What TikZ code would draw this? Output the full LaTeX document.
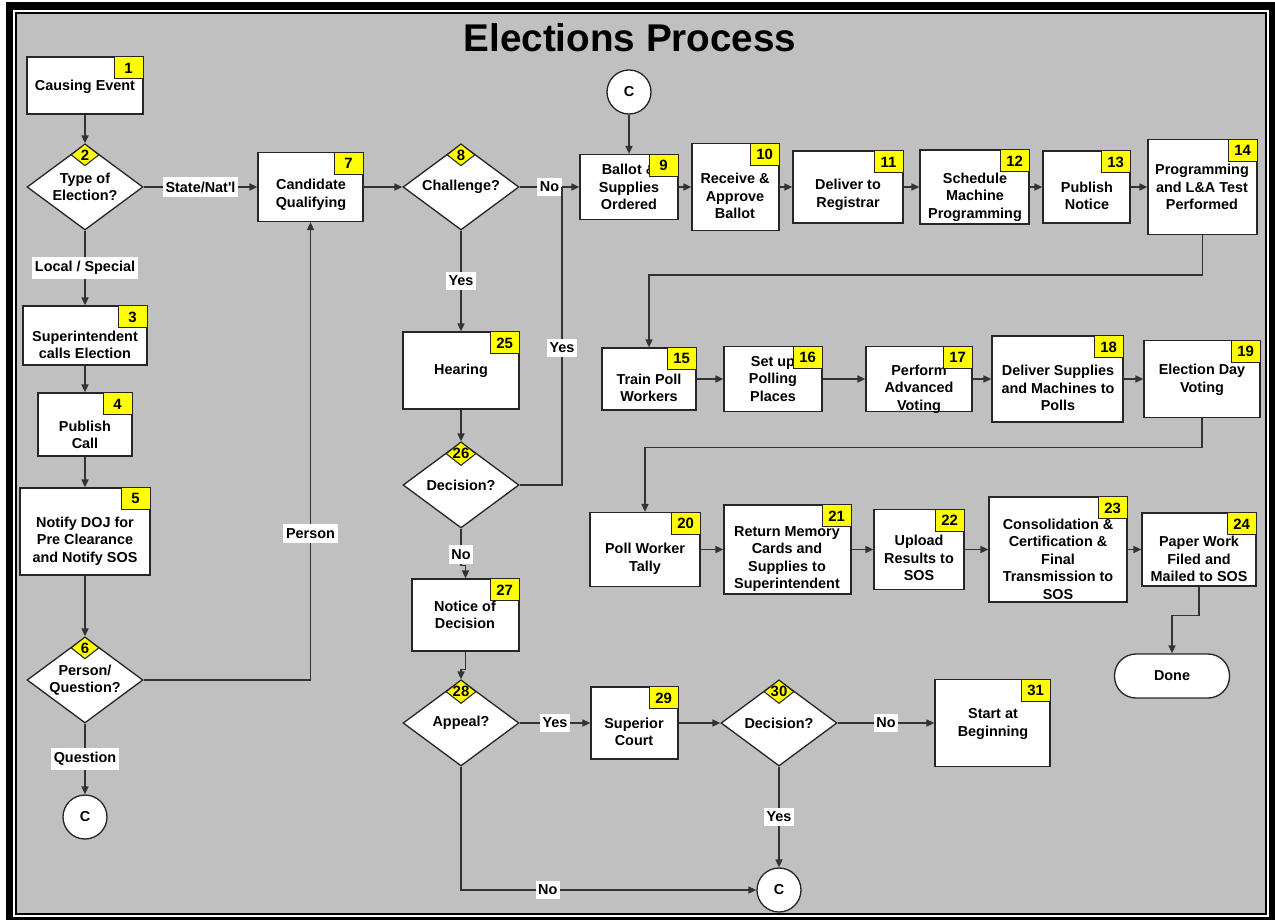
\documentclass[tikz,border=0pt]{standalone}
\usepackage{fontspec}
\setmainfont{Liberation Sans}
\usepackage{tikz}
\usetikzlibrary{shapes.geometric, arrows.meta, positioning, calc}

\definecolor{panel}{RGB}{192,192,192}
\definecolor{tag}{RGB}{255,255,0}

\begin{document}
\begin{tikzpicture}[x=0.02cm, y=-0.02cm,
    font=\fontsize{8.2}{10}\selectfont\bfseries,
    box/.style={draw=black!85, line width=0.75pt, fill=white, inner sep=0pt},
    txt/.style={align=center, inner sep=0pt},
    tagbox/.style={draw=black!85, line width=0.6pt, fill=tag, minimum width=0.58cm, minimum height=0.44cm, inner sep=0pt, anchor=north east, font=\fontsize{8.5}{9}\selectfont\bfseries},
    tagdia/.style={draw=black!85, line width=0.6pt, fill=tag, shape=diamond, aspect=1.27, minimum width=0.56cm, minimum height=0.44cm, inner sep=0pt, anchor=north, font=\fontsize{8.5}{9}\selectfont\bfseries},
    decision/.style={draw=black!85, line width=0.75pt, fill=white, shape=diamond, aspect=1.35, minimum width=2.32cm, minimum height=1.72cm, inner sep=0pt, align=center},
    conn/.style={draw=black!85, line width=0.75pt, fill=white, circle, minimum size=0.88cm, inner sep=0pt},
    lbl/.style={fill=white, inner xsep=1.5pt, inner ysep=2.5pt},
    line/.style={draw=black!80, line width=0.75pt},
    arr/.style={line, -{Triangle[length=4.5pt, width=4pt]}}]

    % frame and background
    \useasboundingbox (0,0) rectangle (1275,920);
    \fill[white] (0,0) rectangle (1275,920);
    \fill[black] (6,2) rectangle (1275,920);
    \fill[white] (12.7,10) rectangle (1269,917);
    \fill[black] (14.7,12) rectangle (1267,915);
    \fill[panel] (16.7,14) rectangle (1265,913);

    \node[font=\fontsize{22}{26}\selectfont\bfseries] (title) at (630,38) {Elections Process};

    % left column
    \node[box, minimum width=2.32cm, minimum height=1.14cm] (n1) at (85,85.5) {};
    \node[txt] (t1) at (85,87) {Causing Event};
    \node[tagbox] (k1) at (n1.north east) {1};

    \node[decision] (d2) at (85,187) {Type of\\Election?};
    \node[tagdia] (k2) at (d2.north) {2};

    \node[box, minimum width=2.48cm, minimum height=1.18cm] (n3) at (85,335.5) {};
    \node[txt] (t3) at (85,345) {Superintendent\\calls Election};
    \node[tagbox] (k3) at (n3.north east) {3};

    \node[box, minimum width=1.88cm, minimum height=1.26cm] (n4) at (85,424.5) {};
    \node[txt] (t4) at (85,435) {Publish\\Call};
    \node[tagbox] (k4) at (n4.north east) {4};

    \node[box, minimum width=2.6cm, minimum height=1.74cm] (n5) at (85,531.5) {};
    \node[txt] (t5) at (85,541) {Notify DOJ for\\Pre Clearance\\and Notify SOS};
    \node[tagbox] (k5) at (n5.north east) {5};

    \node[decision] (d6) at (85,680) {Person/\\Question?};
    \node[tagdia] (k6) at (d6.north) {6};

    \node[conn] (c1) at (85,817) {C};

    % top row
    \node[box, minimum width=2.1cm, minimum height=1.38cm] (n7) at (310.5,187) {};
    \node[txt] (t7) at (311,195) {Candidate\\Qualifying};
    \node[tagbox] (k7) at (n7.north east) {7};

    \node[decision] (d8) at (461,187) {Challenge?};
    \node[tagdia] (k8) at (d8.north) {8};

    \node[conn] (c2) at (629,92) {C};

    \node[box, minimum width=1.96cm, minimum height=1.3cm] (n9) at (629,187) {};
    \node[txt] (t9) at (629,187) {Ballot \&\\Supplies\\Ordered};
    \node[tagbox] (k9) at (n9.north east) {9};

    \node[box, minimum width=1.74cm, minimum height=1.74cm] (n10) at (735.5,187) {};
    \node[txt] (t10) at (735,196) {Receive \&\\Approve\\Ballot};
    \node[tagbox] (k10) at (n10.north east) {10};

    \node[box, minimum width=2.2cm, minimum height=1.44cm] (n11) at (848,187) {};
    \node[txt] (t11) at (848,195) {Deliver to\\Registrar};
    \node[tagbox] (k11) at (n11.north east) {11};

    \node[box, minimum width=2.18cm, minimum height=1.48cm] (n12) at (974.5,187) {};
    \node[txt] (t12) at (975,197) {Schedule\\Machine\\Programming};
    \node[tagbox] (k12) at (n12.north east) {12};

    \node[box, minimum width=1.74cm, minimum height=1.44cm] (n13) at (1086.5,187) {};
    \node[txt] (t13) at (1087,196) {Publish\\Notice};
    \node[tagbox] (k13) at (n13.north east) {13};

    \node[box, minimum width=2.18cm, minimum height=1.9cm] (n14) at (1202.5,187) {};
    \node[txt] (t14) at (1202,187) {Programming\\and L\&A Test\\Performed};
    \node[tagbox] (k14) at (n14.north east) {14};

    % second row
    \node[box, minimum width=1.88cm, minimum height=1.24cm] (n15) at (649,379) {};
    \node[txt] (t15) at (649,388) {Train Poll\\Workers};
    \node[tagbox] (k15) at (n15.north east) {15};

    \node[box, minimum width=1.96cm, minimum height=1.3cm] (n16) at (773,379) {};
    \node[txt] (t16) at (773,379) {Set up\\Polling\\Places};
    \node[tagbox] (k16) at (n16.north east) {16};

    \node[box, minimum width=2.12cm, minimum height=1.3cm] (n17) at (919,379) {};
    \node[txt] (t17) at (919,389) {Perform\\Advanced\\Voting};
    \node[tagbox] (k17) at (n17.north east) {17};

    \node[box, minimum width=2.62cm, minimum height=1.72cm] (n18) at (1057.5,379) {};
    \node[txt] (t18) at (1058,388) {Deliver Supplies\\and Machines to\\Polls};
    \node[tagbox] (k18) at (n18.north east) {18};

    \node[box, minimum width=2.32cm, minimum height=1.54cm] (n19) at (1202,379) {};
    \node[txt] (t19) at (1202,380) {Election Day\\Voting};
    \node[tagbox] (k19) at (n19.north east) {19};

    % third row
    \node[box, minimum width=2.2cm, minimum height=1.48cm] (n20) at (645,549.5) {};
    \node[txt] (t20) at (645,559) {Poll Worker\\Tally};
    \node[tagbox] (k20) at (n20.north east) {20};

    \node[box, minimum width=2.54cm, minimum height=1.78cm] (n21) at (787.5,549.5) {};
    \node[txt] (t21) at (787,559) {Return Memory\\Cards and\\Supplies to\\Superintendent};
    \node[tagbox] (k21) at (n21.north east) {21};

    \node[box, minimum width=1.8cm, minimum height=1.6cm] (n22) at (919,549.5) {};
    \node[txt] (t22) at (919,558) {Upload\\Results to\\SOS};
    \node[tagbox] (k22) at (n22.north east) {22};

    \node[box, minimum width=2.76cm, minimum height=2.1cm] (n23) at (1058,549.5) {};
    \node[txt] (t23) at (1058,559) {Consolidation \&\\Certification \&\\Final\\Transmission to\\SOS};
    \node[tagbox] (k23) at (n23.north east) {23};

    \node[box, minimum width=2.28cm, minimum height=1.46cm] (n24) at (1199,549.5) {};
    \node[txt] (t24) at (1199,559) {Paper Work\\Filed and\\Mailed to SOS};
    \node[tagbox] (k24) at (n24.north east) {24};

    \node[box, rounded corners=0.43cm, minimum width=2.3cm, minimum height=0.88cm] (done) at (1172,676) {Done};

    % challenge branch
    \node[box, minimum width=2.32cm, minimum height=1.54cm] (n25) at (461,370.5) {};
    \node[txt] (t25) at (461,371) {Hearing};
    \node[tagbox] (k25) at (n25.north east) {25};

    \node[decision] (d26) at (461,485) {Decision?};
    \node[tagdia] (k26) at (d26.north) {26};

    \node[box, minimum width=2.14cm, minimum height=1.44cm] (n27) at (465.5,615) {};
    \node[txt] (t27) at (465,615) {Notice of\\Decision};
    \node[tagbox] (k27) at (n27.north east) {27};

    \node[decision] (d28) at (461,723) {Appeal?};
    \node[tagdia] (k28) at (d28.north) {28};

    \node[box, minimum width=1.74cm, minimum height=1.44cm] (n29) at (634.5,723) {};
    \node[txt] (t29) at (634,732) {Superior\\Court};
    \node[tagbox] (k29) at (n29.north east) {29};

    \node[decision] (d30) at (779,723) {Decision?};
    \node[tagdia] (k30) at (d30.north) {30};

    \node[box, minimum width=2.3cm, minimum height=1.74cm] (n31) at (992.5,723) {};
    \node[txt] (t31) at (993,724) {Start at\\Beginning};
    \node[tagbox] (k31) at (n31.north east) {31};

    \node[conn] (c3) at (779,890) {C};

    \coordinate (j9) at (562,187);

    % connectors
    \draw[arr] (n1) -- (d2);
    \draw[arr] (d2) -- node[lbl] (l2a) {State/Nat\textquotesingle l} (n7);
    \draw[arr] (d2) -- node[lbl] (l2b) {Local / Special} (n3);
    \draw[arr] (n3) -- (n4);
    \draw[arr] (n4) -- (n5);
    \draw[arr] (n5) -- (d6);
    \draw[arr] (d6) -- node[lbl] (l6a) {Question} (c1);
    \draw[arr] (d6.east) -| node[lbl, pos=0.66] (l6b) {Person} (n7.south);
    \draw[arr] (n7) -- (d8);
    \draw[arr] (d8) -- node[lbl] (l8a) {No} (n9);
    \draw[arr] (d8) -- node[lbl] (l8b) {Yes} (n25);
    \draw[arr] (c2) -- (n9);
    \draw[arr] (n9) -- (n10);
    \draw[arr] (n10) -- (n11);
    \draw[arr] (n11) -- (n12);
    \draw[arr] (n12) -- (n13);
    \draw[arr] (n13) -- (n14);
    \draw[arr] (n14.south) -- ++(0,40) -| (n15.north);
    \draw[arr] (n15) -- (n16);
    \draw[arr] (n16) -- (n17);
    \draw[arr] (n17) -- (n18);
    \draw[arr] (n18) -- (n19);
    \draw[arr] (n19.south) -- ++(0,29) -| (n20.north);
    \draw[arr] (n20) -- (n21);
    \draw[arr] (n21) -- (n22);
    \draw[arr] (n22) -- (n23);
    \draw[arr] (n23) -- (n24);
    \draw[arr] (n24.south) -- ++(0,29) -| (done.north);
    \draw[arr] (n25) -- (d26);
    \draw[line] (d26.east) -| node[lbl, pos=0.73] (l26a) {Yes} (j9);
    \draw[arr] (d26.south) -- node[lbl, pos=0.7] (l26b) {No} ++(0,37) -| (n27.north);
    \draw[arr] (n27.south) -- ++(0,18) -| (d28.north);
    \draw[arr] (d28) -- node[lbl] (l28a) {Yes} (n29);
    \draw[arr] (d28.south) |- node[lbl, pos=0.647] (l28b) {No} (c3.west);
    \draw[arr] (n29) -- (d30);
    \draw[arr] (d30) -- node[lbl] (l30a) {No} (n31);
    \draw[arr] (d30) -- node[lbl] (l30b) {Yes} (c3);
\end{tikzpicture}
\end{document}
